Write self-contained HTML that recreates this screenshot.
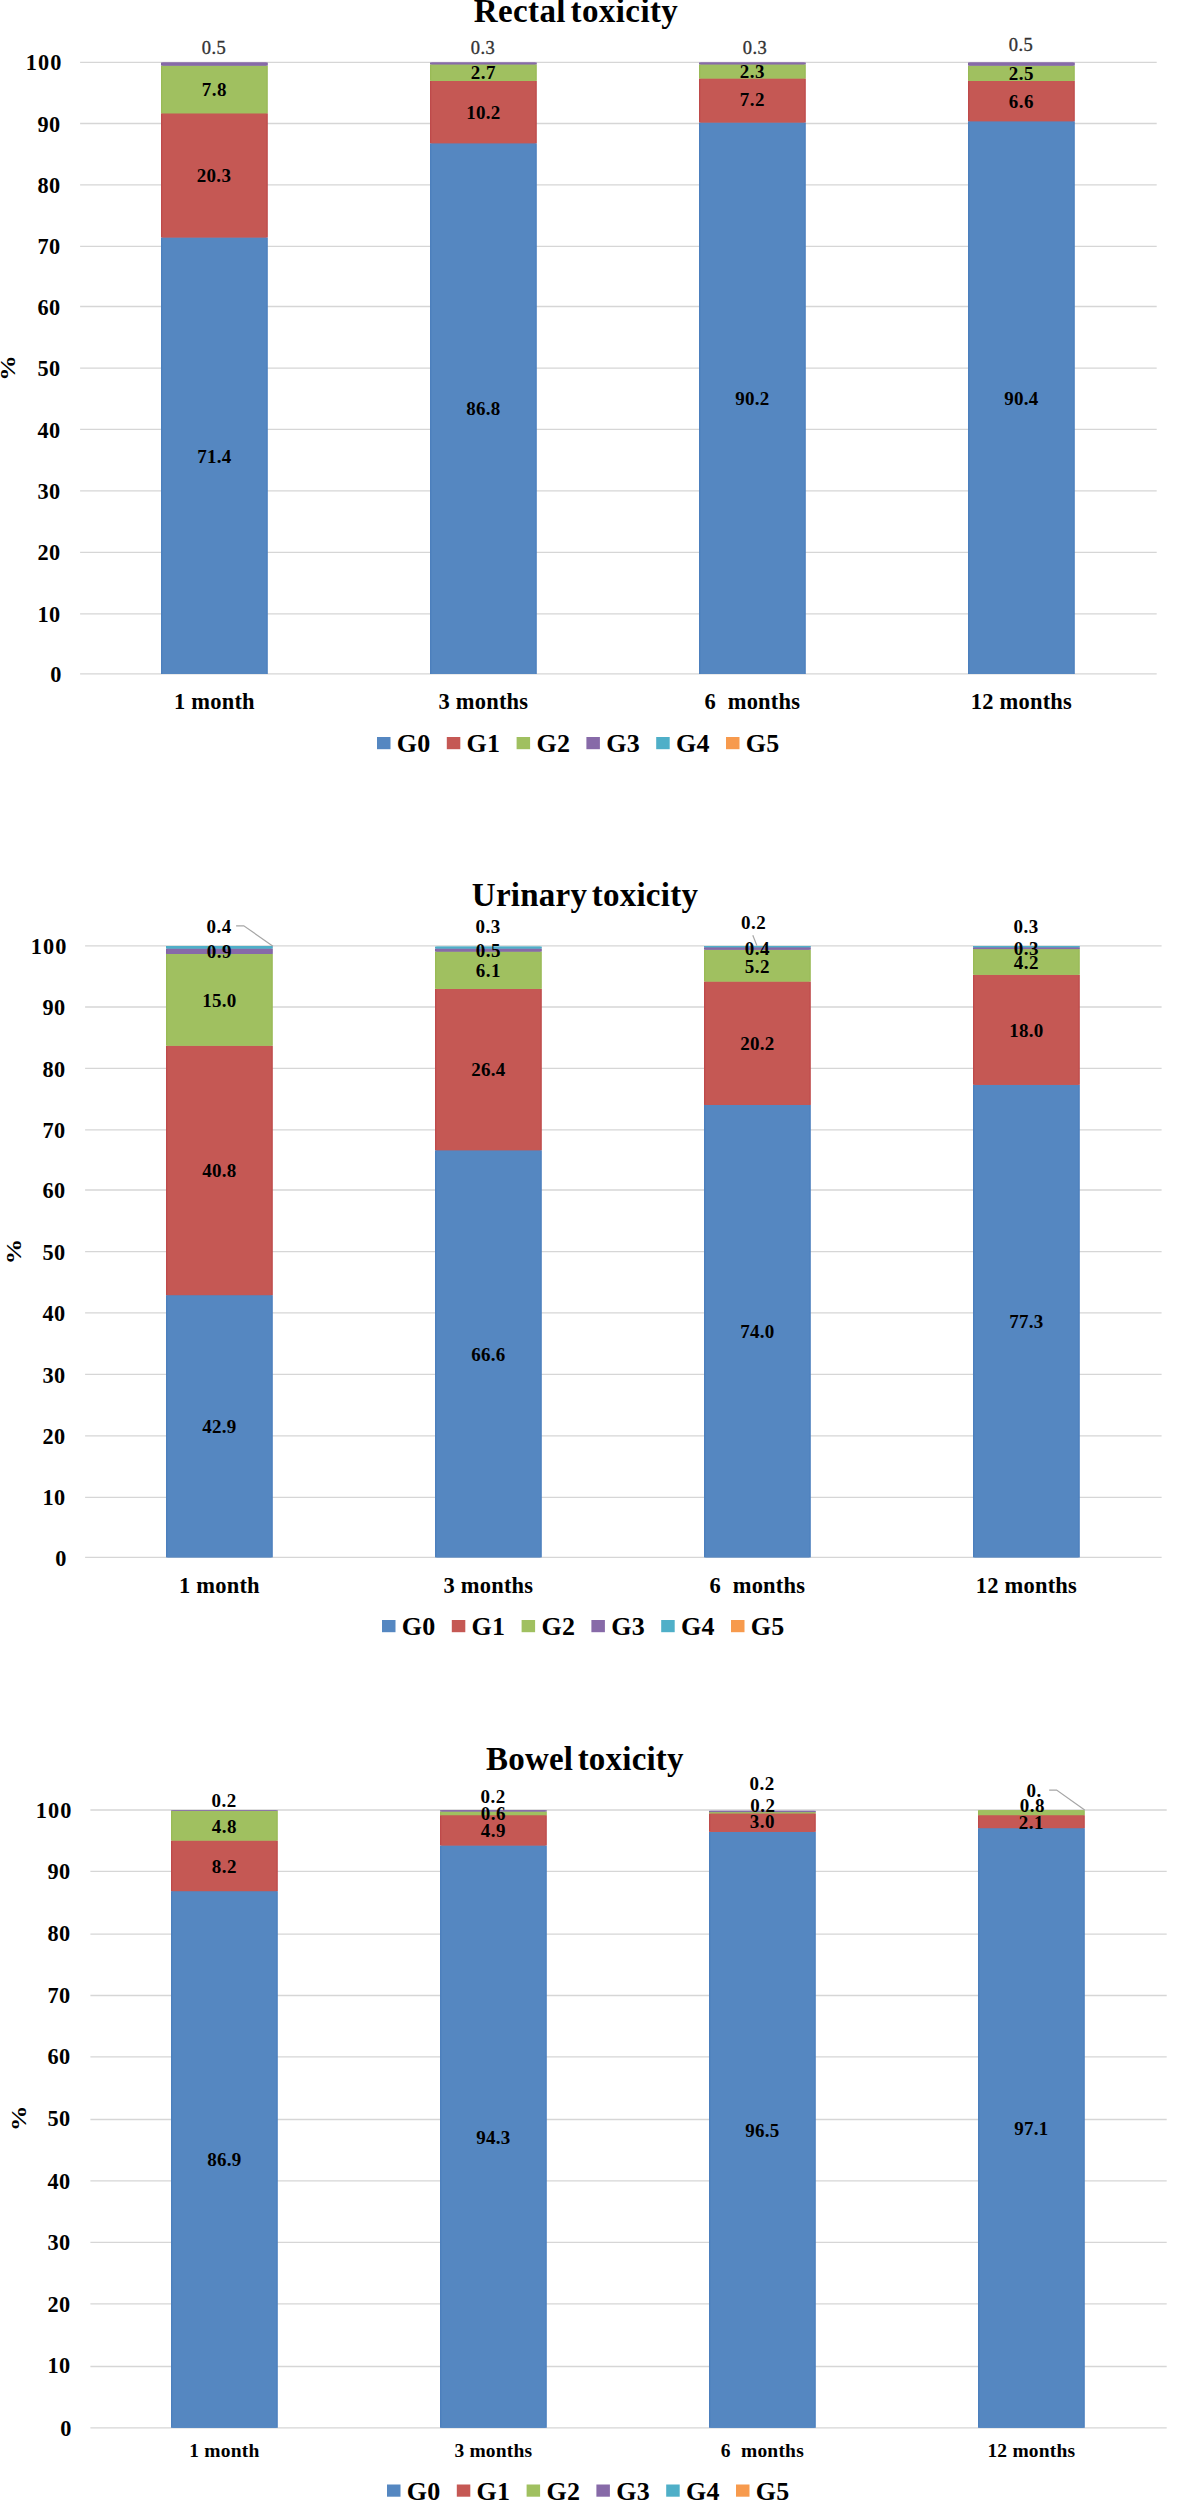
<!DOCTYPE html>
<html lang="en"><head><meta charset="utf-8"><title>Toxicity charts</title>
<style>
html,body{margin:0;padding:0;background:#fff;}
body{width:1184px;height:2500px;overflow:hidden;}
svg{display:block;font-family:'Liberation Serif', 'DejaVu Serif', serif;}
.cat{white-space:pre;}
.grid line{stroke:#D6D6D6;stroke-width:1.3;}
</style></head><body>
<svg width="1184" height="2500" viewBox="0 0 1184 2500">
<rect width="1184" height="2500" fill="#fff"/>
<!-- Rectal toxicity -->
<g class="grid">
<line x1="80.1" x2="1156.7" y1="673.90" y2="673.90"/>
<line x1="80.1" x2="1156.7" y1="613.80" y2="613.80"/>
<line x1="80.1" x2="1156.7" y1="552.30" y2="552.30"/>
<line x1="80.1" x2="1156.7" y1="490.90" y2="490.90"/>
<line x1="80.1" x2="1156.7" y1="429.40" y2="429.40"/>
<line x1="80.1" x2="1156.7" y1="368.20" y2="368.20"/>
<line x1="80.1" x2="1156.7" y1="306.50" y2="306.50"/>
<line x1="80.1" x2="1156.7" y1="246.30" y2="246.30"/>
<line x1="80.1" x2="1156.7" y1="184.90" y2="184.90"/>
<line x1="80.1" x2="1156.7" y1="123.50" y2="123.50"/>
<line x1="80.1" x2="1156.7" y1="62.30" y2="62.30"/>
</g>
<text x="61.4" y="682.00" font-size="22.3" font-weight="bold" text-anchor="end" letter-spacing="0">0</text>
<text x="60.3" y="621.90" font-size="22.3" font-weight="bold" text-anchor="end" letter-spacing="0.2">10</text>
<text x="60.3" y="560.40" font-size="22.3" font-weight="bold" text-anchor="end" letter-spacing="0.2">20</text>
<text x="60.3" y="499.00" font-size="22.3" font-weight="bold" text-anchor="end" letter-spacing="0.2">30</text>
<text x="60.3" y="437.50" font-size="22.3" font-weight="bold" text-anchor="end" letter-spacing="0.2">40</text>
<text x="60.3" y="376.30" font-size="22.3" font-weight="bold" text-anchor="end" letter-spacing="0.2">50</text>
<text x="60.3" y="314.60" font-size="22.3" font-weight="bold" text-anchor="end" letter-spacing="0.2">60</text>
<text x="60.3" y="254.40" font-size="22.3" font-weight="bold" text-anchor="end" letter-spacing="0.2">70</text>
<text x="60.3" y="193.00" font-size="22.3" font-weight="bold" text-anchor="end" letter-spacing="0.2">80</text>
<text x="60.3" y="131.60" font-size="22.3" font-weight="bold" text-anchor="end" letter-spacing="0.2">90</text>
<text x="62.5" y="70.40" font-size="22.3" font-weight="bold" text-anchor="end" letter-spacing="1.1">100</text>
<text transform="translate(15.4,368) rotate(-90) scale(1.16,1)" font-size="22" font-weight="bold" text-anchor="middle">%</text>
<rect x="161.00" y="237.39" width="106.8" height="436.61" fill="#4C7FBD"/>
<rect x="162.30" y="237.39" width="104.20" height="436.61" fill="#5587C1"/>
<rect x="161.00" y="113.25" width="106.8" height="124.13" fill="#BE4A4A"/>
<rect x="162.30" y="113.25" width="104.20" height="124.13" fill="#C55854"/>
<rect x="161.00" y="65.56" width="106.8" height="47.70" fill="#99BA56"/>
<rect x="162.30" y="65.56" width="104.20" height="47.70" fill="#A0C060"/>
<rect x="161.00" y="62.50" width="106.8" height="3.06" fill="#8064A2"/>
<rect x="162.30" y="62.50" width="104.20" height="3.06" fill="#876AA8"/>
<rect x="430.00" y="143.22" width="106.8" height="530.78" fill="#4C7FBD"/>
<rect x="431.30" y="143.22" width="104.20" height="530.78" fill="#5587C1"/>
<rect x="430.00" y="80.85" width="106.8" height="62.37" fill="#BE4A4A"/>
<rect x="431.30" y="80.85" width="104.20" height="62.37" fill="#C55854"/>
<rect x="430.00" y="64.33" width="106.8" height="16.51" fill="#99BA56"/>
<rect x="431.30" y="64.33" width="104.20" height="16.51" fill="#A0C060"/>
<rect x="430.00" y="62.50" width="106.8" height="1.83" fill="#8064A2"/>
<rect x="431.30" y="62.50" width="104.20" height="1.83" fill="#876AA8"/>
<rect x="699.00" y="122.43" width="106.8" height="551.57" fill="#4C7FBD"/>
<rect x="700.30" y="122.43" width="104.20" height="551.57" fill="#5587C1"/>
<rect x="699.00" y="78.40" width="106.8" height="44.03" fill="#BE4A4A"/>
<rect x="700.30" y="78.40" width="104.20" height="44.03" fill="#C55854"/>
<rect x="699.00" y="64.33" width="106.8" height="14.06" fill="#99BA56"/>
<rect x="700.30" y="64.33" width="104.20" height="14.06" fill="#A0C060"/>
<rect x="699.00" y="62.50" width="106.8" height="1.83" fill="#8064A2"/>
<rect x="700.30" y="62.50" width="104.20" height="1.83" fill="#876AA8"/>
<rect x="968.00" y="121.20" width="106.8" height="552.80" fill="#4C7FBD"/>
<rect x="969.30" y="121.20" width="104.20" height="552.80" fill="#5587C1"/>
<rect x="968.00" y="80.85" width="106.8" height="40.36" fill="#BE4A4A"/>
<rect x="969.30" y="80.85" width="104.20" height="40.36" fill="#C55854"/>
<rect x="968.00" y="65.56" width="106.8" height="15.29" fill="#99BA56"/>
<rect x="969.30" y="65.56" width="104.20" height="15.29" fill="#A0C060"/>
<rect x="968.00" y="62.50" width="106.8" height="3.06" fill="#8064A2"/>
<rect x="969.30" y="62.50" width="104.20" height="3.06" fill="#876AA8"/>
<text x="214.4" y="462.6" font-size="19" font-weight="bold" text-anchor="middle" letter-spacing="0.3">71.4</text>
<text x="214.0" y="181.5" font-size="19" font-weight="bold" text-anchor="middle" letter-spacing="0.3">20.3</text>
<text x="214.4" y="96.3" font-size="19" font-weight="bold" text-anchor="middle" letter-spacing="0.5">7.8</text>
<text x="483.4" y="414.6" font-size="19" font-weight="bold" text-anchor="middle" letter-spacing="0.3">86.8</text>
<text x="483.4" y="118.9" font-size="19" font-weight="bold" text-anchor="middle" letter-spacing="0.3">10.2</text>
<text x="483.4" y="79.0" font-size="19" font-weight="bold" text-anchor="middle" letter-spacing="0.5">2.7</text>
<text x="752.4" y="405.1" font-size="19" font-weight="bold" text-anchor="middle" letter-spacing="0.3">90.2</text>
<text x="752.4" y="105.8" font-size="19" font-weight="bold" text-anchor="middle" letter-spacing="0.5">7.2</text>
<text x="752.4" y="77.7" font-size="19" font-weight="bold" text-anchor="middle" letter-spacing="0.5">2.3</text>
<text x="1021.4" y="404.5" font-size="19" font-weight="bold" text-anchor="middle" letter-spacing="0.3">90.4</text>
<text x="1021.4" y="107.9" font-size="19" font-weight="bold" text-anchor="middle" letter-spacing="0.5">6.6</text>
<text x="1021.4" y="80.1" font-size="19" font-weight="bold" text-anchor="middle" letter-spacing="0.5">2.5</text>
<text x="214" y="54" font-size="18.5" font-weight="normal" text-anchor="middle" fill="#333" letter-spacing="0.5" stroke="#333" stroke-width="0.35">0.5</text>
<text x="483" y="54" font-size="18.5" font-weight="normal" text-anchor="middle" fill="#333" letter-spacing="0.5" stroke="#333" stroke-width="0.35">0.3</text>
<text x="755" y="54" font-size="18.5" font-weight="normal" text-anchor="middle" fill="#333" letter-spacing="0.5" stroke="#333" stroke-width="0.35">0.3</text>
<text x="1021" y="51" font-size="18.5" font-weight="normal" text-anchor="middle" fill="#333" letter-spacing="0.5" stroke="#333" stroke-width="0.35">0.5</text>
<text x="214.40" y="709.3" font-size="22.5" font-weight="bold" text-anchor="middle" class="cat" xml:space="preserve" letter-spacing="0.2">1 month</text>
<text x="483.40" y="709.3" font-size="22.5" font-weight="bold" text-anchor="middle" class="cat" xml:space="preserve" letter-spacing="0.2">3 months</text>
<text x="752.40" y="709.3" font-size="22.5" font-weight="bold" text-anchor="middle" class="cat" xml:space="preserve" letter-spacing="0.2">6  months</text>
<text x="1021.40" y="709.3" font-size="22.5" font-weight="bold" text-anchor="middle" class="cat" xml:space="preserve" letter-spacing="0.2">12 months</text>
<text x="576" y="22" font-size="33" font-weight="bold" text-anchor="middle" word-spacing="-4" letter-spacing="0.4">Rectal toxicity</text>
<rect x="377.00" y="737.00" width="13.5" height="12.2" fill="#5587C1"/>
<text x="396.80" y="752" font-size="26" font-weight="bold" text-anchor="start" letter-spacing="0.3">G0</text>
<rect x="446.80" y="737.00" width="13.5" height="12.2" fill="#C55854"/>
<text x="466.60" y="752" font-size="26" font-weight="bold" text-anchor="start" letter-spacing="0.3">G1</text>
<rect x="516.60" y="737.00" width="13.5" height="12.2" fill="#A0C060"/>
<text x="536.40" y="752" font-size="26" font-weight="bold" text-anchor="start" letter-spacing="0.3">G2</text>
<rect x="586.40" y="737.00" width="13.5" height="12.2" fill="#876AA8"/>
<text x="606.20" y="752" font-size="26" font-weight="bold" text-anchor="start" letter-spacing="0.3">G3</text>
<rect x="656.20" y="737.00" width="13.5" height="12.2" fill="#4FAFC8"/>
<text x="676.00" y="752" font-size="26" font-weight="bold" text-anchor="start" letter-spacing="0.3">G4</text>
<rect x="726.00" y="737.00" width="13.5" height="12.2" fill="#F79A4D"/>
<text x="745.80" y="752" font-size="26" font-weight="bold" text-anchor="start" letter-spacing="0.3">G5</text>
<!-- Urinary toxicity -->
<g class="grid">
<line x1="85.1" x2="1161.6" y1="1557.40" y2="1557.40"/>
<line x1="85.1" x2="1161.6" y1="1497.30" y2="1497.30"/>
<line x1="85.1" x2="1161.6" y1="1435.80" y2="1435.80"/>
<line x1="85.1" x2="1161.6" y1="1374.40" y2="1374.40"/>
<line x1="85.1" x2="1161.6" y1="1312.90" y2="1312.90"/>
<line x1="85.1" x2="1161.6" y1="1251.70" y2="1251.70"/>
<line x1="85.1" x2="1161.6" y1="1190.00" y2="1190.00"/>
<line x1="85.1" x2="1161.6" y1="1129.80" y2="1129.80"/>
<line x1="85.1" x2="1161.6" y1="1068.40" y2="1068.40"/>
<line x1="85.1" x2="1161.6" y1="1007.00" y2="1007.00"/>
<line x1="85.1" x2="1161.6" y1="945.80" y2="945.80"/>
</g>
<text x="66.4" y="1565.50" font-size="22.3" font-weight="bold" text-anchor="end" letter-spacing="0">0</text>
<text x="65.3" y="1505.40" font-size="22.3" font-weight="bold" text-anchor="end" letter-spacing="0.2">10</text>
<text x="65.3" y="1443.90" font-size="22.3" font-weight="bold" text-anchor="end" letter-spacing="0.2">20</text>
<text x="65.3" y="1382.50" font-size="22.3" font-weight="bold" text-anchor="end" letter-spacing="0.2">30</text>
<text x="65.3" y="1321.00" font-size="22.3" font-weight="bold" text-anchor="end" letter-spacing="0.2">40</text>
<text x="65.3" y="1259.80" font-size="22.3" font-weight="bold" text-anchor="end" letter-spacing="0.2">50</text>
<text x="65.3" y="1198.10" font-size="22.3" font-weight="bold" text-anchor="end" letter-spacing="0.2">60</text>
<text x="65.3" y="1137.90" font-size="22.3" font-weight="bold" text-anchor="end" letter-spacing="0.2">70</text>
<text x="65.3" y="1076.50" font-size="22.3" font-weight="bold" text-anchor="end" letter-spacing="0.2">80</text>
<text x="65.3" y="1015.10" font-size="22.3" font-weight="bold" text-anchor="end" letter-spacing="0.2">90</text>
<text x="67.5" y="953.90" font-size="22.3" font-weight="bold" text-anchor="end" letter-spacing="1.1">100</text>
<text transform="translate(20.5,1251.5) rotate(-90) scale(1.16,1)" font-size="22" font-weight="bold" text-anchor="middle">%</text>
<rect x="166.00" y="1295.11" width="106.8" height="262.29" fill="#4C7FBD"/>
<rect x="167.30" y="1295.11" width="104.20" height="262.29" fill="#5587C1"/>
<rect x="166.00" y="1045.66" width="106.8" height="249.45" fill="#BE4A4A"/>
<rect x="167.30" y="1045.66" width="104.20" height="249.45" fill="#C55854"/>
<rect x="166.00" y="953.95" width="106.8" height="91.71" fill="#99BA56"/>
<rect x="167.30" y="953.95" width="104.20" height="91.71" fill="#A0C060"/>
<rect x="166.00" y="948.45" width="106.8" height="5.50" fill="#8064A2"/>
<rect x="167.30" y="948.45" width="104.20" height="5.50" fill="#876AA8"/>
<rect x="166.00" y="946.00" width="106.8" height="2.45" fill="#4BACC6"/>
<rect x="167.30" y="946.00" width="104.20" height="2.45" fill="#4FAFC8"/>
<rect x="435.00" y="1150.21" width="106.8" height="407.19" fill="#4C7FBD"/>
<rect x="436.30" y="1150.21" width="104.20" height="407.19" fill="#5587C1"/>
<rect x="435.00" y="988.80" width="106.8" height="161.41" fill="#BE4A4A"/>
<rect x="436.30" y="988.80" width="104.20" height="161.41" fill="#C55854"/>
<rect x="435.00" y="951.50" width="106.8" height="37.30" fill="#99BA56"/>
<rect x="436.30" y="951.50" width="104.20" height="37.30" fill="#A0C060"/>
<rect x="435.00" y="948.45" width="106.8" height="3.06" fill="#8064A2"/>
<rect x="436.30" y="948.45" width="104.20" height="3.06" fill="#876AA8"/>
<rect x="435.00" y="946.61" width="106.8" height="1.83" fill="#4BACC6"/>
<rect x="436.30" y="946.61" width="104.20" height="1.83" fill="#4FAFC8"/>
<rect x="704.00" y="1104.96" width="106.8" height="452.44" fill="#4C7FBD"/>
<rect x="705.30" y="1104.96" width="104.20" height="452.44" fill="#5587C1"/>
<rect x="704.00" y="981.46" width="106.8" height="123.50" fill="#BE4A4A"/>
<rect x="705.30" y="981.46" width="104.20" height="123.50" fill="#C55854"/>
<rect x="704.00" y="949.67" width="106.8" height="31.79" fill="#99BA56"/>
<rect x="705.30" y="949.67" width="104.20" height="31.79" fill="#A0C060"/>
<rect x="704.00" y="947.22" width="106.8" height="2.45" fill="#8064A2"/>
<rect x="705.30" y="947.22" width="104.20" height="2.45" fill="#876AA8"/>
<rect x="704.00" y="946.00" width="106.8" height="1.22" fill="#4BACC6"/>
<rect x="705.30" y="946.00" width="104.20" height="1.22" fill="#4FAFC8"/>
<rect x="973.00" y="1084.79" width="106.8" height="472.61" fill="#4C7FBD"/>
<rect x="974.30" y="1084.79" width="104.20" height="472.61" fill="#5587C1"/>
<rect x="973.00" y="974.74" width="106.8" height="110.05" fill="#BE4A4A"/>
<rect x="974.30" y="974.74" width="104.20" height="110.05" fill="#C55854"/>
<rect x="973.00" y="949.06" width="106.8" height="25.68" fill="#99BA56"/>
<rect x="974.30" y="949.06" width="104.20" height="25.68" fill="#A0C060"/>
<rect x="973.00" y="947.22" width="106.8" height="1.83" fill="#8064A2"/>
<rect x="974.30" y="947.22" width="104.20" height="1.83" fill="#876AA8"/>
<rect x="973.00" y="946.00" width="106.8" height="1.22" fill="#4BACC6"/>
<rect x="974.30" y="946.00" width="104.20" height="1.22" fill="#4FAFC8"/>
<polyline points="236.1,925.8 243.8,925.8 273,946.2" fill="none" stroke="#A6A6A6" stroke-width="1.2"/>
<polyline points="752.8,935.3 756.9,945.6" fill="none" stroke="#A6A6A6" stroke-width="1.2"/>
<text x="219.4" y="1433.2" font-size="19" font-weight="bold" text-anchor="middle" letter-spacing="0.3">42.9</text>
<text x="219.4" y="1176.9" font-size="19" font-weight="bold" text-anchor="middle" letter-spacing="0.3">40.8</text>
<text x="219.4" y="1006.7" font-size="19" font-weight="bold" text-anchor="middle" letter-spacing="0.3">15.0</text>
<text x="219.4" y="958.4" font-size="19" font-weight="bold" text-anchor="middle" letter-spacing="0.5">0.9</text>
<text x="488.4" y="1360.7" font-size="19" font-weight="bold" text-anchor="middle" letter-spacing="0.3">66.6</text>
<text x="488.4" y="1076.4" font-size="19" font-weight="bold" text-anchor="middle" letter-spacing="0.3">26.4</text>
<text x="488.4" y="977.1" font-size="19" font-weight="bold" text-anchor="middle" letter-spacing="0.5">6.1</text>
<text x="488.4" y="956.9" font-size="19" font-weight="bold" text-anchor="middle" letter-spacing="0.5">0.5</text>
<text x="757.4" y="1338.1" font-size="19" font-weight="bold" text-anchor="middle" letter-spacing="0.3">74.0</text>
<text x="757.4" y="1050.1" font-size="19" font-weight="bold" text-anchor="middle" letter-spacing="0.3">20.2</text>
<text x="757.4" y="972.5" font-size="19" font-weight="bold" text-anchor="middle" letter-spacing="0.5">5.2</text>
<text x="757.4" y="955.3" font-size="19" font-weight="bold" text-anchor="middle" letter-spacing="0.5">0.4</text>
<text x="1026.4" y="1328.0" font-size="19" font-weight="bold" text-anchor="middle" letter-spacing="0.3">77.3</text>
<text x="1026.4" y="1036.7" font-size="19" font-weight="bold" text-anchor="middle" letter-spacing="0.3">18.0</text>
<text x="1026.4" y="968.8" font-size="19" font-weight="bold" text-anchor="middle" letter-spacing="0.5">4.2</text>
<text x="1026.4" y="955.0" font-size="19" font-weight="bold" text-anchor="middle" letter-spacing="0.5">0.3</text>
<text x="219" y="933" font-size="19" font-weight="bold" text-anchor="middle" letter-spacing="0.5">0.4</text>
<text x="488" y="933" font-size="19" font-weight="bold" text-anchor="middle" letter-spacing="0.5">0.3</text>
<text x="753.5" y="929" font-size="19" font-weight="bold" text-anchor="middle" letter-spacing="0.5">0.2</text>
<text x="1026" y="933" font-size="19" font-weight="bold" text-anchor="middle" letter-spacing="0.5">0.3</text>
<text x="219.40" y="1592.5" font-size="22.5" font-weight="bold" text-anchor="middle" class="cat" xml:space="preserve" letter-spacing="0.2">1 month</text>
<text x="488.40" y="1592.5" font-size="22.5" font-weight="bold" text-anchor="middle" class="cat" xml:space="preserve" letter-spacing="0.2">3 months</text>
<text x="757.40" y="1592.5" font-size="22.5" font-weight="bold" text-anchor="middle" class="cat" xml:space="preserve" letter-spacing="0.2">6  months</text>
<text x="1026.40" y="1592.5" font-size="22.5" font-weight="bold" text-anchor="middle" class="cat" xml:space="preserve" letter-spacing="0.2">12 months</text>
<text x="585" y="906.2" font-size="33" font-weight="bold" text-anchor="middle" word-spacing="-4" letter-spacing="0.25">Urinary toxicity</text>
<rect x="382.00" y="1620.00" width="13.5" height="12.2" fill="#5587C1"/>
<text x="401.80" y="1635" font-size="26" font-weight="bold" text-anchor="start" letter-spacing="0.3">G0</text>
<rect x="451.80" y="1620.00" width="13.5" height="12.2" fill="#C55854"/>
<text x="471.60" y="1635" font-size="26" font-weight="bold" text-anchor="start" letter-spacing="0.3">G1</text>
<rect x="521.60" y="1620.00" width="13.5" height="12.2" fill="#A0C060"/>
<text x="541.40" y="1635" font-size="26" font-weight="bold" text-anchor="start" letter-spacing="0.3">G2</text>
<rect x="591.40" y="1620.00" width="13.5" height="12.2" fill="#876AA8"/>
<text x="611.20" y="1635" font-size="26" font-weight="bold" text-anchor="start" letter-spacing="0.3">G3</text>
<rect x="661.20" y="1620.00" width="13.5" height="12.2" fill="#4FAFC8"/>
<text x="681.00" y="1635" font-size="26" font-weight="bold" text-anchor="start" letter-spacing="0.3">G4</text>
<rect x="731.00" y="1620.00" width="13.5" height="12.2" fill="#F79A4D"/>
<text x="750.80" y="1635" font-size="26" font-weight="bold" text-anchor="start" letter-spacing="0.3">G5</text>
<!-- Bowel toxicity -->
<g class="grid">
<line x1="90.4" x2="1166.7" y1="2427.80" y2="2427.80"/>
<line x1="90.4" x2="1166.7" y1="2366.50" y2="2366.50"/>
<line x1="90.4" x2="1166.7" y1="2303.80" y2="2303.80"/>
<line x1="90.4" x2="1166.7" y1="2242.40" y2="2242.40"/>
<line x1="90.4" x2="1166.7" y1="2180.90" y2="2180.90"/>
<line x1="90.4" x2="1166.7" y1="2119.50" y2="2119.50"/>
<line x1="90.4" x2="1166.7" y1="2056.90" y2="2056.90"/>
<line x1="90.4" x2="1166.7" y1="1995.50" y2="1995.50"/>
<line x1="90.4" x2="1166.7" y1="1934.10" y2="1934.10"/>
<line x1="90.4" x2="1166.7" y1="1871.40" y2="1871.40"/>
<line x1="90.4" x2="1166.7" y1="1810.00" y2="1810.00"/>
</g>
<text x="71.4" y="2435.90" font-size="22.3" font-weight="bold" text-anchor="end" letter-spacing="0">0</text>
<text x="70.3" y="2372.60" font-size="22.3" font-weight="bold" text-anchor="end" letter-spacing="0.2">10</text>
<text x="70.3" y="2311.60" font-size="22.3" font-weight="bold" text-anchor="end" letter-spacing="0.2">20</text>
<text x="70.3" y="2249.90" font-size="22.3" font-weight="bold" text-anchor="end" letter-spacing="0.2">30</text>
<text x="70.3" y="2188.60" font-size="22.3" font-weight="bold" text-anchor="end" letter-spacing="0.2">40</text>
<text x="70.3" y="2126.10" font-size="22.3" font-weight="bold" text-anchor="end" letter-spacing="0.2">50</text>
<text x="70.3" y="2064.40" font-size="22.3" font-weight="bold" text-anchor="end" letter-spacing="0.2">60</text>
<text x="70.3" y="2003.00" font-size="22.3" font-weight="bold" text-anchor="end" letter-spacing="0.2">70</text>
<text x="70.3" y="1940.90" font-size="22.3" font-weight="bold" text-anchor="end" letter-spacing="0.2">80</text>
<text x="70.3" y="1878.90" font-size="22.3" font-weight="bold" text-anchor="end" letter-spacing="0.2">90</text>
<text x="72.5" y="1818.10" font-size="22.3" font-weight="bold" text-anchor="end" letter-spacing="1.1">100</text>
<text transform="translate(25.8,2118.3) rotate(-90) scale(1.16,1)" font-size="22" font-weight="bold" text-anchor="middle">%</text>
<rect x="171.00" y="1891.11" width="106.8" height="536.69" fill="#4C7FBD"/>
<rect x="172.30" y="1891.11" width="104.20" height="536.69" fill="#5587C1"/>
<rect x="171.00" y="1840.46" width="106.8" height="50.64" fill="#BE4A4A"/>
<rect x="172.30" y="1840.46" width="104.20" height="50.64" fill="#C55854"/>
<rect x="171.00" y="1810.82" width="106.8" height="29.64" fill="#99BA56"/>
<rect x="172.30" y="1810.82" width="104.20" height="29.64" fill="#A0C060"/>
<rect x="171.00" y="1810.20" width="106.8" height="0.62" fill="#8064A2"/>
<rect x="172.30" y="1810.20" width="104.20" height="0.62" fill="#876AA8"/>
<rect x="440.00" y="1845.40" width="106.8" height="582.40" fill="#4C7FBD"/>
<rect x="441.30" y="1845.40" width="104.20" height="582.40" fill="#5587C1"/>
<rect x="440.00" y="1815.14" width="106.8" height="30.26" fill="#BE4A4A"/>
<rect x="441.30" y="1815.14" width="104.20" height="30.26" fill="#C55854"/>
<rect x="440.00" y="1811.44" width="106.8" height="3.71" fill="#99BA56"/>
<rect x="441.30" y="1811.44" width="104.20" height="3.71" fill="#A0C060"/>
<rect x="440.00" y="1810.20" width="106.8" height="1.24" fill="#8064A2"/>
<rect x="441.30" y="1810.20" width="104.20" height="1.24" fill="#876AA8"/>
<rect x="709.00" y="1831.82" width="106.8" height="595.98" fill="#4C7FBD"/>
<rect x="710.30" y="1831.82" width="104.20" height="595.98" fill="#5587C1"/>
<rect x="709.00" y="1813.29" width="106.8" height="18.53" fill="#BE4A4A"/>
<rect x="710.30" y="1813.29" width="104.20" height="18.53" fill="#C55854"/>
<rect x="709.00" y="1812.05" width="106.8" height="1.24" fill="#99BA56"/>
<rect x="710.30" y="1812.05" width="104.20" height="1.24" fill="#A0C060"/>
<rect x="709.00" y="1810.82" width="106.8" height="1.24" fill="#8064A2"/>
<rect x="710.30" y="1810.82" width="104.20" height="1.24" fill="#876AA8"/>
<rect x="978.00" y="1828.11" width="106.8" height="599.69" fill="#4C7FBD"/>
<rect x="979.30" y="1828.11" width="104.20" height="599.69" fill="#5587C1"/>
<rect x="978.00" y="1815.14" width="106.8" height="12.97" fill="#BE4A4A"/>
<rect x="979.30" y="1815.14" width="104.20" height="12.97" fill="#C55854"/>
<rect x="978.00" y="1810.20" width="106.8" height="4.94" fill="#99BA56"/>
<rect x="979.30" y="1810.20" width="104.20" height="4.94" fill="#A0C060"/>
<polyline points="1049.2,1790.1 1056.6,1790.1 1084.7,1810" fill="none" stroke="#A6A6A6" stroke-width="1.2"/>
<text x="224.4" y="2166.4" font-size="19" font-weight="bold" text-anchor="middle" letter-spacing="0.3">86.9</text>
<text x="224.4" y="1872.7" font-size="19" font-weight="bold" text-anchor="middle" letter-spacing="0.5">8.2</text>
<text x="224.4" y="1832.5" font-size="19" font-weight="bold" text-anchor="middle" letter-spacing="0.5">4.8</text>
<text x="493.4" y="2143.5" font-size="19" font-weight="bold" text-anchor="middle" letter-spacing="0.3">94.3</text>
<text x="493.4" y="1837.2" font-size="19" font-weight="bold" text-anchor="middle" letter-spacing="0.5">4.9</text>
<text x="493.4" y="1820.2" font-size="19" font-weight="bold" text-anchor="middle" letter-spacing="0.5">0.6</text>
<text x="762.4" y="2136.7" font-size="19" font-weight="bold" text-anchor="middle" letter-spacing="0.3">96.5</text>
<text x="762.4" y="1828.4" font-size="19" font-weight="bold" text-anchor="middle" letter-spacing="0.5">3.0</text>
<text x="762.9" y="1812.3" font-size="19" font-weight="bold" text-anchor="middle" letter-spacing="0.5">0.2</text>
<text x="1031.4" y="2134.9" font-size="19" font-weight="bold" text-anchor="middle" letter-spacing="0.3">97.1</text>
<text x="1031.4" y="1828.5" font-size="19" font-weight="bold" text-anchor="middle" letter-spacing="0.5">2.1</text>
<text x="1032.4" y="1811.8" font-size="19" font-weight="bold" text-anchor="middle" letter-spacing="0.5">0.8</text>
<text x="224" y="1807" font-size="19" font-weight="bold" text-anchor="middle" letter-spacing="0.5">0.2</text>
<text x="493" y="1803" font-size="19" font-weight="bold" text-anchor="middle" letter-spacing="0.5">0.2</text>
<text x="762" y="1790" font-size="19" font-weight="bold" text-anchor="middle" letter-spacing="0.5">0.2</text>
<text x="1034" y="1797" font-size="19" font-weight="bold" text-anchor="middle" letter-spacing="0.5">0.</text>
<text x="224.40" y="2456.5" font-size="19.5" font-weight="bold" text-anchor="middle" class="cat" xml:space="preserve" letter-spacing="0.2">1 month</text>
<text x="493.40" y="2456.5" font-size="19.5" font-weight="bold" text-anchor="middle" class="cat" xml:space="preserve" letter-spacing="0.2">3 months</text>
<text x="762.40" y="2456.5" font-size="19.5" font-weight="bold" text-anchor="middle" class="cat" xml:space="preserve" letter-spacing="0.2">6  months</text>
<text x="1031.40" y="2456.5" font-size="19.5" font-weight="bold" text-anchor="middle" class="cat" xml:space="preserve" letter-spacing="0.2">12 months</text>
<text x="584.9" y="1770.2" font-size="33" font-weight="bold" text-anchor="middle" word-spacing="-4" letter-spacing="0.2">Bowel toxicity</text>
<rect x="387.00" y="2484.50" width="13.5" height="12.2" fill="#5587C1"/>
<text x="406.80" y="2499.5" font-size="26" font-weight="bold" text-anchor="start" letter-spacing="0.3">G0</text>
<rect x="456.80" y="2484.50" width="13.5" height="12.2" fill="#C55854"/>
<text x="476.60" y="2499.5" font-size="26" font-weight="bold" text-anchor="start" letter-spacing="0.3">G1</text>
<rect x="526.60" y="2484.50" width="13.5" height="12.2" fill="#A0C060"/>
<text x="546.40" y="2499.5" font-size="26" font-weight="bold" text-anchor="start" letter-spacing="0.3">G2</text>
<rect x="596.40" y="2484.50" width="13.5" height="12.2" fill="#876AA8"/>
<text x="616.20" y="2499.5" font-size="26" font-weight="bold" text-anchor="start" letter-spacing="0.3">G3</text>
<rect x="666.20" y="2484.50" width="13.5" height="12.2" fill="#4FAFC8"/>
<text x="686.00" y="2499.5" font-size="26" font-weight="bold" text-anchor="start" letter-spacing="0.3">G4</text>
<rect x="736.00" y="2484.50" width="13.5" height="12.2" fill="#F79A4D"/>
<text x="755.80" y="2499.5" font-size="26" font-weight="bold" text-anchor="start" letter-spacing="0.3">G5</text>
</svg></body></html>
